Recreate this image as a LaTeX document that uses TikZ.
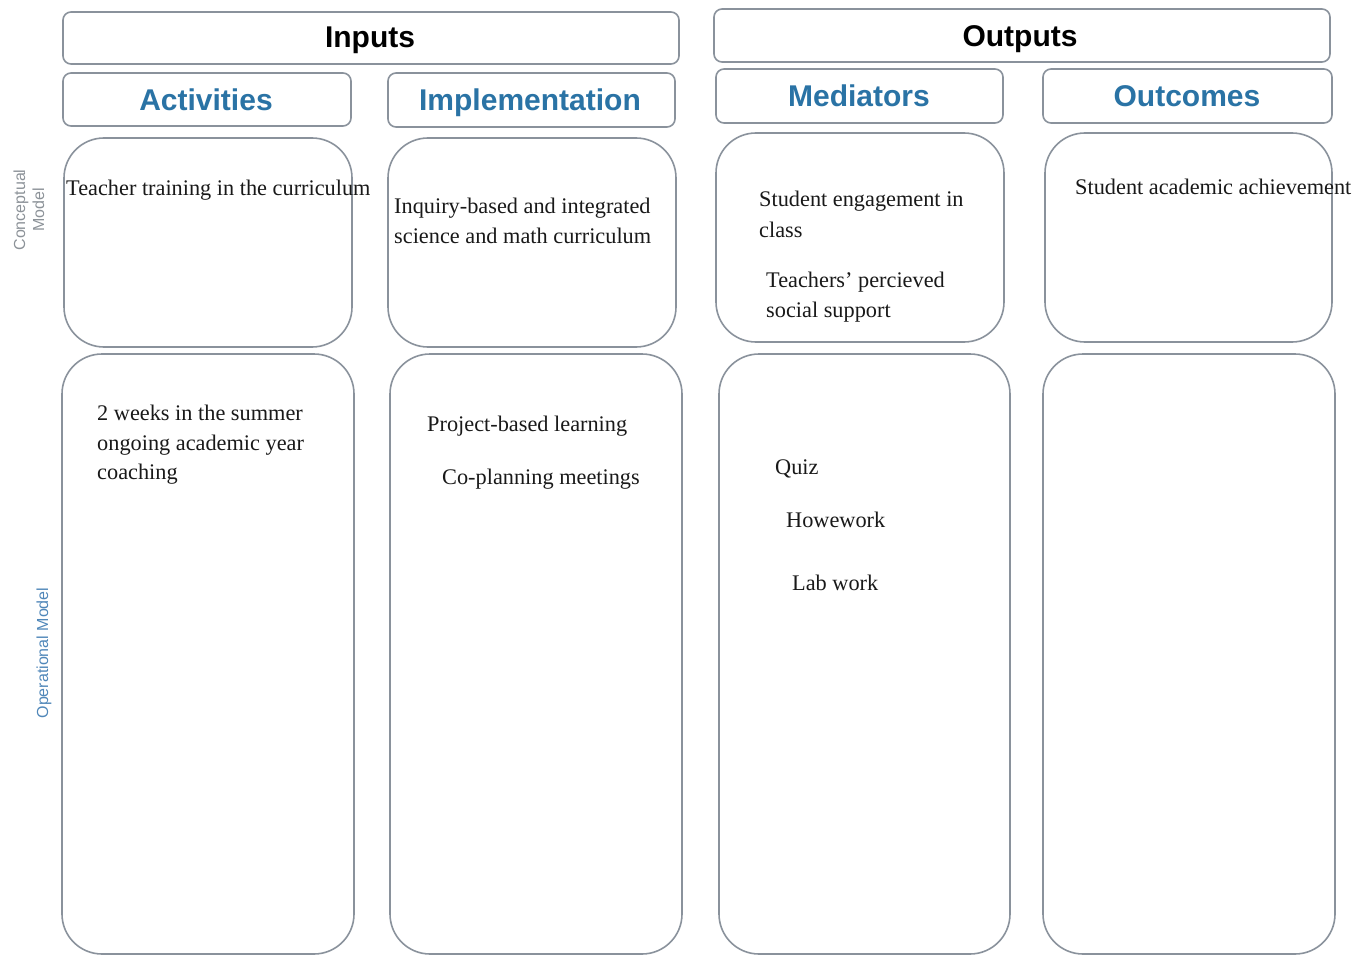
\documentclass[tikz,border=0pt]{standalone}
\usepackage{fontspec}
\setmainfont{Liberation Serif}
\setsansfont{Liberation Sans}
\definecolor{boxgrey}{RGB}{138,146,156}
\definecolor{headblue}{RGB}{42,115,165}
\definecolor{labgrey}{RGB}{140,146,152}
\definecolor{labblue}{RGB}{80,135,185}
\tikzset{
  hbox/.style={draw=boxgrey, line width=1.6pt, rounded corners=8pt, inner sep=0pt, fill=white},
  cbox/.style={draw=boxgrey, line width=1.6pt, rounded corners=40pt, inner sep=0pt, fill=white},
  toptitle/.style={font=\sffamily\bfseries\fontsize{30}{34}\selectfont, text=black, inner sep=0pt, anchor=base},
  subtitle/.style={font=\sffamily\bfseries\fontsize{30}{34}\selectfont, text=headblue, inner sep=0pt, anchor=base},
  body/.style={font=\fontsize{22.3}{30}\selectfont, anchor=base west, inner sep=0pt, text=black!90},
  sidelab/.style={font=\sffamily\fontsize{16}{19}\selectfont, rotate=90, inner sep=0pt, align=center}
}
\begin{document}
\begin{tikzpicture}[x=1pt,y=-1pt]
\useasboundingbox (0,0) rectangle (1361,955);
% header boxes
\node[hbox, minimum width=616pt, minimum height=52pt] (inputs) at (371,38) {};
\node[toptitle] (inputsT) at (370,48) {Inputs};
\node[hbox, minimum width=616pt, minimum height=53pt] (outputs) at (1022,35.5) {};
\node[toptitle] (outputsT) at (1020,47) {Outputs};
\node[hbox, minimum width=288pt, minimum height=53pt] (act) at (207,99.5) {};
\node[subtitle] (actT) at (206,111) {Activities};
\node[hbox, minimum width=287pt, minimum height=54pt] (imp) at (531.5,100) {};
\node[subtitle] (impT) at (530,111) {Implementation};
\node[hbox, minimum width=287pt, minimum height=54pt] (med) at (859.5,96) {};
\node[subtitle] (medT) at (859,107) {Mediators};
\node[hbox, minimum width=289pt, minimum height=54pt] (out) at (1187.5,96) {};
\node[subtitle] (outT) at (1187,107) {Outcomes};
% conceptual boxes
\node[cbox, minimum width=288pt, minimum height=209pt] (actC) at (208,242.5) {};
\node[cbox, minimum width=288pt, minimum height=209pt] (impC) at (532,242.5) {};
\node[cbox, minimum width=288pt, minimum height=209pt] (medC) at (860,237.5) {};
\node[cbox, minimum width=287pt, minimum height=209pt] (outC) at (1188.5,237.5) {};
% operational boxes
\node[cbox, minimum width=292pt, minimum height=600pt] (actO) at (208,654) {};
\node[cbox, minimum width=292pt, minimum height=600pt] (impO) at (536,654) {};
\node[cbox, minimum width=291pt, minimum height=600pt] (medO) at (864.5,654) {};
\node[cbox, minimum width=292pt, minimum height=600pt] (outO) at (1189,654) {};
% side labels
\node[sidelab, text=labgrey] (concL) at (29,210) {Conceptual\\Model};
\node[sidelab, text=labblue] (operL) at (44,653) {Operational Model};
% conceptual texts
\node[body] (t1) at (66,196) {Teacher training in the curriculum};
\node[body] (t2a) at (394,213) {Inquiry-based and integrated};
\node[body] (t2b) at (394,243) {science and math curriculum};
\node[body] (t3a) at (759,207) {Student engagement in};
\node[body] (t3b) at (759,237) {class};
\node[body] (t3c) at (766,287) {Teachers' percieved};
\node[body] (t3d) at (766,317) {social support};
\node[body] (t4) at (1075,195) {Student academic achievement};
% operational texts
\node[body] (o1a) at (97,420) {2 weeks in the summer};
\node[body] (o1b) at (97,450) {ongoing academic year};
\node[body] (o1c) at (97,479) {coaching};
\node[body] (o2a) at (427,431) {Project-based learning};
\node[body] (o2b) at (442,484) {Co-planning meetings};
\node[body] (o3a) at (775,474) {Quiz};
\node[body] (o3b) at (786,527) {Howework};
\node[body] (o3c) at (792,590) {Lab work};
\end{tikzpicture}
\end{document}
